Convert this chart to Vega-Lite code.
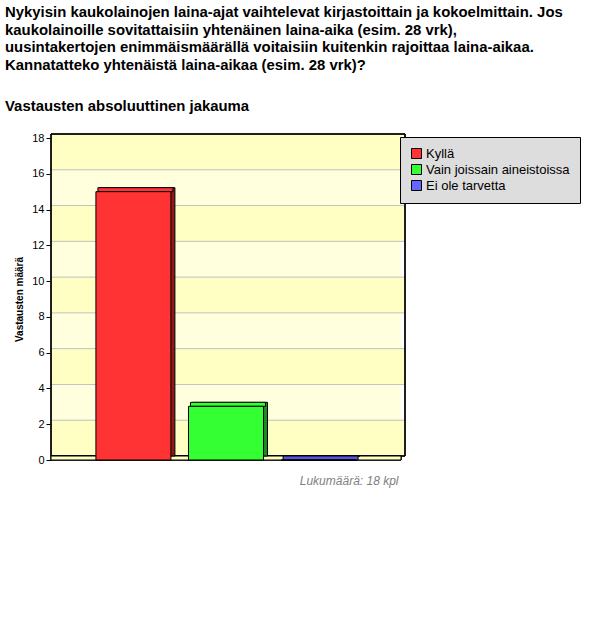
{
  "$schema": "https://vega.github.io/schema/vega-lite/v6.json",
  "width": 350,
  "height": 322,
  "autosize": {"type": "none"},
  "padding": {"left": 51, "top": 138, "right": 199, "bottom": 177},
  "background": "white",
  "config": {
    "font": "Liberation Sans",
    "view": {"stroke": null},
    "axisY": {
      "tickCount": 9, "grid": false,
      "labelOverlap": false, "labelFlush": false, "labelBound": false,
      "domainColor": "black", "tickColor": "black", "tickSize": 5,
      "labelColor": "black", "labelFont": "Liberation Sans", "labelFontSize": 11, "labelPadding": 2,
      "titleFont": "Liberation Sans", "titleFontSize": 10,
      "titleFontWeight": "bold", "titleColor": "black", "titlePadding": 7
    },
    "axisX": {
      "labels": false, "ticks": false, "domain": false, "grid": false,
      "titleFont": "Liberation Sans", "titleFontSize": 12,
      "titleFontStyle": "italic", "titleFontWeight": "normal", "titleColor": "#808080",
      "titlePadding": 15
    }
  },
  "title": {
    "text": [
      "Nykyisin kaukolainojen laina-ajat vaihtelevat kirjastoittain ja kokoelmittain. Jos",
      "kaukolainoille sovitattaisiin yhtenäinen laina-aika (esim. 28 vrk),",
      "uusintakertojen enimmäismäärällä voitaisiin kuitenkin rajoittaa laina-aikaa.",
      "Kannatatteko yhtenäistä laina-aikaa (esim. 28 vrk)?"
    ],
    "subtitle": "Vastausten absoluuttinen jakauma",
    "anchor": "start",
    "frame": "group",
    "dx": -46,
    "offset": 18,
    "font": "Liberation Sans",
    "fontSize": 14.9,
    "fontWeight": "bold",
    "lineHeight": 17.7,
    "color": "black",
    "subtitleFont": "Liberation Sans",
    "subtitleFontSize": 14.9,
    "subtitleFontWeight": "bold",
    "subtitleColor": "black",
    "subtitlePadding": 26
  },
  "datasets": {
    "answers": [
      {"vastaus": "Kyllä", "maara": 15},
      {"vastaus": "Vain joissain aineistoissa", "maara": 3},
      {"vastaus": "Ei ole tarvetta", "maara": 0}
    ],
    "stripes": [
      {"lo": 0, "hi": 2},
      {"lo": 4, "hi": 6},
      {"lo": 8, "hi": 10},
      {"lo": 12, "hi": 14},
      {"lo": 16, "hi": 18}
    ],
    "grid": [
      {"v": 2}, {"v": 4}, {"v": 6}, {"v": 8},
      {"v": 10}, {"v": 12}, {"v": 14}, {"v": 16}
    ]
  },
  "data": {"name": "answers"},
  "layer": [
    {
      "mark": {"type": "rect", "fill": "#FFFFDD", "xOffset": 0, "x2Offset": 4, "yOffset": -4, "y2Offset": -4},
      "encoding": {
        "y": {
          "datum": 0, "type": "quantitative", "scale": {"domain": [0, 18], "nice": false},
          "title": "Vastausten määrä"
        },
        "y2": {"datum": 18}
      }
    },
    {
      "data": {"name": "stripes"},
      "mark": {"type": "rect", "fill": "#FFFFC4", "xOffset": 4, "x2Offset": 4, "yOffset": -4, "y2Offset": -4},
      "encoding": {
        "y": {"field": "lo", "type": "quantitative", "title": "Vastausten määrä"},
        "y2": {"field": "hi"}
      }
    },
    {
      "data": {"name": "grid"},
      "mark": {"type": "rule", "color": "#C0C0C0", "strokeWidth": 1, "xOffset": 4, "x2Offset": 4, "yOffset": -4},
      "encoding": {
        "y": {"field": "v", "type": "quantitative", "title": "Vastausten määrä"}
      }
    },
    {
      "mark": {"type": "rect", "fill": null, "fillOpacity": 0, "stroke": "black", "strokeWidth": 1, "xOffset": 4, "x2Offset": 4, "yOffset": -4, "y2Offset": -4},
      "encoding": {
        "y": {"datum": 0, "type": "quantitative", "title": "Vastausten määrä"},
        "y2": {"datum": 18}
      }
    },
    {
      "mark": {"type": "rect", "fill": "#FFFFC4", "stroke": "black", "strokeWidth": 1, "xOffset": 0, "x2Offset": 4, "yOffset": -4, "y2Offset": 0},
      "encoding": {
        "y": {"datum": 0, "type": "quantitative", "title": "Vastausten määrä"},
        "y2": {"datum": 0}
      }
    },
    {
      "mark": {"type": "bar", "stroke": "black", "strokeWidth": 1, "xOffset": 4, "yOffset": -4, "y2Offset": -4},
      "encoding": {
        "x": {
          "field": "vastaus", "type": "nominal", "sort": null,
          "scale": {"paddingInner": 0.19, "paddingOuter": 0.485},
          "title": "Lukumäärä: 18 kpl",
          "axis": {"titleAnchor": "end", "titleX": 347, "titleAlign": "right"}
        },
        "y": {"field": "maara", "type": "quantitative", "title": "Vastausten määrä"},
        "color": {
          "field": "vastaus", "type": "nominal", "sort": null, "legend": null,
          "scale": {"domain": ["Kyllä", "Vain joissain aineistoissa", "Ei ole tarvetta"], "range": ["#8B1A1A", "#1E8B1E", "#3333AA"]}
        }
      }
    },
    {
      "mark": {"type": "bar", "stroke": "black", "strokeWidth": 1, "xOffset": 2, "yOffset": -4, "y2Offset": 0},
      "encoding": {
        "x": {"field": "vastaus", "type": "nominal", "sort": null, "title": "Lukumäärä: 18 kpl"},
        "y": {"field": "maara", "type": "quantitative", "title": "Vastausten määrä"},
        "y2": {"field": "maara"},
        "color": {
          "field": "vastaus", "type": "nominal", "sort": null, "legend": null,
          "scale": {"domain": ["Kyllä", "Vain joissain aineistoissa", "Ei ole tarvetta"], "range": ["#FF3333", "#33FF33", "#5555DD"]}
        }
      }
    },
    {
      "mark": {"type": "bar", "stroke": "black", "strokeWidth": 1},
      "encoding": {
        "x": {"field": "vastaus", "type": "nominal", "sort": null, "title": "Lukumäärä: 18 kpl"},
        "y": {"field": "maara", "type": "quantitative", "title": "Vastausten määrä"},
        "color": {
          "field": "vastaus", "type": "nominal", "sort": null,
          "scale": {"domain": ["Kyllä", "Vain joissain aineistoissa", "Ei ole tarvetta"], "range": ["#FF3333", "#33FF33", "#6666FF"]},
          "legend": {
            "title": null, "orient": "none", "legendX": 349, "legendY": -1,
            "fillColor": "#DDDDDD", "strokeColor": "black", "padding": 10, "cornerRadius": 0,
            "symbolType": "square", "symbolSize": 100, "symbolStrokeColor": "black", "symbolStrokeWidth": 1,
            "labelFont": "Liberation Sans", "labelFontSize": 13, "labelColor": "black", "labelOffset": 3,
            "labelLimit": 300,
            "rowPadding": 1
          }
        }
      }
    }
  ],
  "resolve": {"scale": {"color": "independent"}, "legend": {"color": "independent"}}
}
